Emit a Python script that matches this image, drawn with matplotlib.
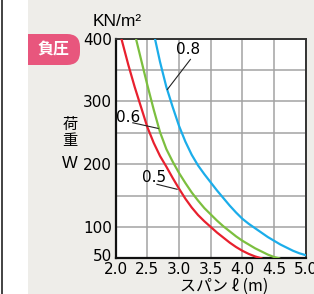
import matplotlib
matplotlib.use("Agg")
import matplotlib.pyplot as plt
from matplotlib.patches import Rectangle, FancyBboxPatch
import matplotlib.transforms as mtransforms
from matplotlib import font_manager

# span (m) vs load (KN/m2), one curve per plate thickness
span_05 = [2.09, 2.2, 2.3, 2.4, 2.5, 2.6, 2.7, 2.8, 2.9, 3.0, 3.1, 3.2, 3.3, 3.4,
           3.5, 3.6, 3.7, 3.8, 3.9, 4.0, 4.1, 4.2, 4.3]
load_05 = [400, 358, 323, 291, 259, 234, 213, 196, 178, 161, 145, 131, 119, 109,
           100, 91, 83, 75, 68, 62, 57, 53, 50]

span_06 = [2.32, 2.4, 2.5, 2.6, 2.7, 2.8, 2.9, 3.0, 3.1, 3.2, 3.3, 3.4, 3.5, 3.6,
           3.7, 3.8, 3.9, 4.0, 4.1, 4.2, 4.3, 4.4, 4.5, 4.58]
load_06 = [400, 367, 326, 287, 251, 224, 204, 186, 170, 155, 142, 130, 120, 110,
           101, 93, 85, 78, 72, 66, 61, 56, 52, 50]

span_08 = [2.62, 2.7, 2.8, 2.9, 3.0, 3.1, 3.2, 3.3, 3.4, 3.5, 3.6, 3.7, 3.8, 3.9,
           4.0, 4.1, 4.2, 4.3, 4.4, 4.5, 4.6, 4.7, 4.8, 4.9, 5.0]
load_08 = [400, 363, 323, 291, 261, 236, 215, 198, 184, 171, 158, 146, 134, 123,
           113, 105, 98, 91, 84, 78, 72, 67, 62, 58, 55]

x_ticks = [2.0, 2.5, 3.0, 3.5, 4.0, 4.5, 5.0]
y_ticks = [50, 100, 200, 300, 400]
y_grid = [150, 250, 350]

C_RED, C_GREEN, C_BLUE = "#e8202e", "#7cbf3f", "#1badea"
BG = "#eeede9"
JP = ["Noto Sans CJK JP", "DejaVu Sans"]

# a condensed face for the numbers, if one is installed
installed = {f.name for f in font_manager.fontManager.ttflist}
NARROW = [n for n in ("Liberation Sans Narrow", "DejaVu Sans Condensed") if n in installed]
NARROW = NARROW[:1] + ["DejaVu Sans"]

fig = plt.figure(figsize=(3.14, 2.94), dpi=100, facecolor=BG)

# background decorations in pixel coordinates
bg = fig.add_axes([0, 0, 1, 1], zorder=-1)
bg.set_xlim(0, 314)
bg.set_ylim(294, 0)
bg.axis("off")
bg.add_patch(FancyBboxPatch((12, 34), 68, 31, boxstyle="round,pad=0,rounding_size=13",
                            fc="#e8567d", ec="none", zorder=1))
bg.add_patch(Rectangle((0, 0), 28.3, 294, fc="white", ec="none", zorder=2))
bg.plot([1.5, 1.5], [0, 294], color="#222222", lw=1.2, zorder=3)
bg.text(53, 49.5, "負圧", family=JP, fontsize=11.5, fontweight="bold", color="white",
        ha="center", va="center", zorder=4)
bg.text(117, 21, "KN/m²", family=["Liberation Sans", "DejaVu Sans"], fontsize=12.5,
        ha="center", va="center")
for ch, yy in (("荷", 124), ("重", 141)):
    bg.text(70, yy, ch, family=JP, fontsize=11, ha="center", va="center")
bg.text(70, 164, "W", family=["Liberation Sans", "DejaVu Sans"], fontsize=12,
        ha="center", va="center")
bg.text(224, 286, "スパン ℓ (m)", family=JP, fontsize=11.5, ha="center", va="center")

ax = fig.add_axes([115.7 / 314, 1 - 258.3 / 294, 190 / 314, 219.6 / 294])
ax.set_facecolor("white")
ax.plot(span_05, load_05, color=C_RED, lw=1.6, zorder=3)
ax.plot(span_06, load_06, color=C_GREEN, lw=1.6, zorder=3)
ax.plot(span_08, load_08, color=C_BLUE, lw=1.6, zorder=3)

ax.set_xlim(2.0, 5.0)
ax.set_ylim(50, 400)
ax.set_xticks(x_ticks)
ax.set_xticklabels([f"{v:.1f}" for v in x_ticks])
ax.set_yticks(y_ticks)
ax.set_yticklabels([str(v) for v in y_ticks])
ax.set_yticks(y_grid, minor=True)
ax.grid(True, which="both", color="#a3a3a3", lw=1.1, zorder=1)
ax.set_axisbelow(True)
ax.tick_params(which="both", length=0)
ax.tick_params(axis="x", pad=3)
ax.tick_params(axis="y", pad=2.5)
for lab in ax.get_xticklabels() + ax.get_yticklabels():
    lab.set_family(NARROW)
    lab.set_fontsize(11)
# the bottom "50" sits a little higher to clear the x labels
lab50 = ax.get_yticklabels()[0]
lab50.set_transform(lab50.get_transform() + mtransforms.ScaledTranslation(0, 3 / 100, fig.dpi_scale_trans))

for side in ("left", "bottom"):
    ax.spines[side].set_color("#111111")
    ax.spines[side].set_linewidth(1.6)
for side in ("top", "right"):
    ax.spines[side].set_color("#333333")
    ax.spines[side].set_linewidth(1.4)

# curve labels with leader lines
kw = dict(family=NARROW, fontsize=11, ha="center", va="center")
ax.text(3.15, 382, "0.8", **kw)
ax.plot([3.18, 2.815], [367, 319], color="#222222", lw=0.8, zorder=4)
ax.text(2.19, 275, "0.6", **kw)
ax.plot([2.27, 2.67], [266, 257], color="#222222", lw=0.8, zorder=4)
ax.text(2.60, 178, "0.5", **kw)
ax.plot([2.65, 2.97], [168, 160], color="#222222", lw=0.8, zorder=4)

fig.savefig("out.png", dpi=100, facecolor=BG)
